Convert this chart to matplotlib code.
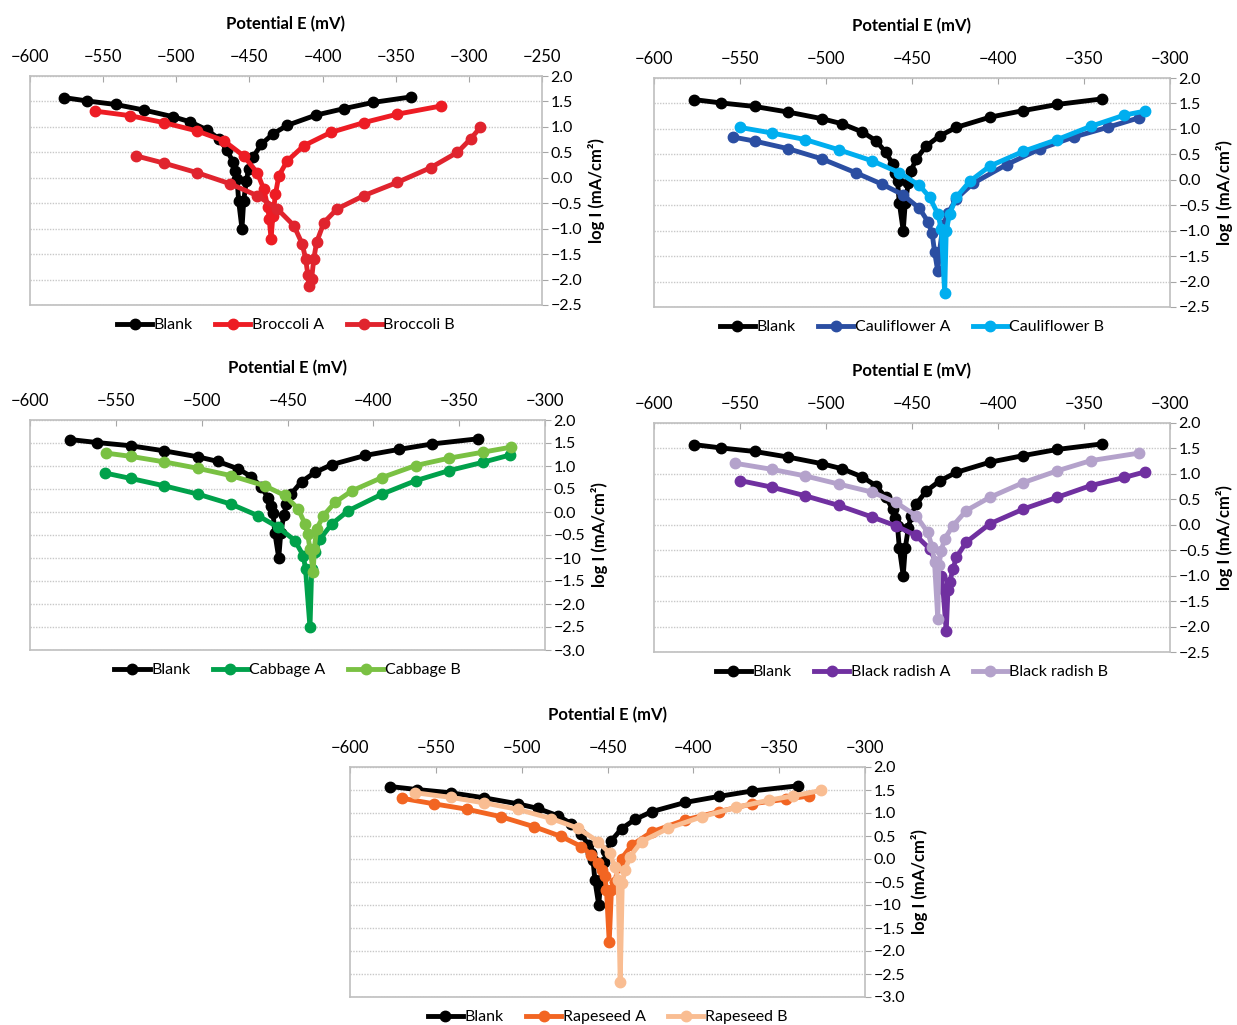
import numpy as np
import matplotlib.pyplot as plt
from matplotlib.ticker import FixedLocator, FixedFormatter

plt.rcParams['font.family'] = ['Lato', 'DejaVu Sans']

# Blank (same curve in all five panels)
blank_e = [-576.6, -561, -541.4, -521.9, -502.3, -490.6, -478.9, -471.1, -465.2, -461.3, -459.8,
           -458.4, -457.4, -455.1, -453.9, -452.1, -450.6, -447.7, -441.8, -434, -424.2, -404.7,
           -385.2, -365.6, -339.3]
blank_i = [1.575, 1.51, 1.44, 1.33, 1.20, 1.10, 0.94, 0.77, 0.54, 0.31, 0.14,
           -0.03, -0.45, -1.0, -0.45, -0.06, 0.17, 0.40, 0.66, 0.86, 1.03, 1.23,
           1.36, 1.48, 1.59]

# Broccoli
broc_a_e = [-555.5, -531.5, -508.7, -485.8, -467.6, -453.9, -444.7, -440.2, -437.4, -436.5, -435.2,
            -434, -432.2, -429.9, -424.2, -412.8, -394.5, -371.7, -348.9, -319.2]
broc_a_i = [1.31, 1.22, 1.085, 0.92, 0.73, 0.43, 0.10, -0.22, -0.58, -0.81, -1.2,
            -0.75, -0.32, 0.04, 0.33, 0.63, 0.89, 1.085, 1.25, 1.41]
broc_b_e = [-527.4, -508.7, -485.8, -463, -444.7, -431, -419.6, -413.9, -411.6, -410, -409.4,
            -407.5, -406, -404.1, -399.1, -390, -371.7, -348.9, -326, -307.8, -298.6, -292.2]
broc_b_i = [0.43, 0.29, 0.10, -0.12, -0.35, -0.61, -0.94, -1.30, -1.59, -1.92, -2.13,
            -1.99, -1.59, -1.27, -0.88, -0.61, -0.35, -0.09, 0.20, 0.50, 0.77, 0.99]

# Cauliflower
caul_a_e = [-554.1, -541.4, -521.9, -502.3, -482.8, -467.2, -455.5, -445.7, -440.8, -438.3, -436.9, -435,
            -434, -432, -429.1, -424.2, -414.5, -394.9, -375.4, -355.9, -336.3, -317.8]
caul_a_i = [0.84, 0.76, 0.61, 0.41, 0.14, -0.09, -0.29, -0.56, -0.82, -1.05, -1.41, -1.80,
            -1.41, -0.89, -0.66, -0.37, -0.07, 0.30, 0.61, 0.84, 1.03, 1.22]
caul_b_e = [-550.2, -531.6, -512.1, -492.6, -473, -457.4, -445.7, -439.8, -435, -433, -431,
            -430.1, -428.1, -424.2, -416.4, -404.7, -385.2, -365.6, -346.1, -326.6, -314.5]
caul_b_i = [1.03, 0.92, 0.79, 0.59, 0.37, 0.14, -0.11, -0.34, -0.67, -0.96, -2.22,
            -1.0, -0.67, -0.34, -0.03, 0.27, 0.56, 0.79, 1.05, 1.27, 1.35]

# Cabbage
cabb_a_e = [-556.6, -541.4, -521.9, -502.3, -482.8, -467.2, -455.5, -445.7, -440.8, -439.5, -436.9,
            -435.9, -434, -431.1, -424.2, -414.5, -394.9, -375.4, -355.9, -336.3, -320.3]
cabb_a_i = [0.85, 0.73, 0.57, 0.39, 0.17, -0.08, -0.33, -0.62, -0.95, -1.24, -2.51,
            -1.24, -0.88, -0.59, -0.26, 0.03, 0.39, 0.68, 0.90, 1.08, 1.24]
cabb_b_e = [-555.5, -541.4, -521.9, -502.3, -482.8, -463.3, -451.6, -443.8, -439.8, -438.3, -436.9, -435,
            -434.4, -433, -429.1, -422.3, -412.5, -394.9, -375.4, -355.9, -336.3, -319.7]
cabb_b_i = [1.28, 1.21, 1.09, 0.95, 0.79, 0.57, 0.36, 0.07, -0.26, -0.48, -0.80, -1.31,
            -0.80, -0.37, -0.08, 0.21, 0.46, 0.75, 1.01, 1.17, 1.30, 1.41]

# Black radish
brad_a_e = [-550.2, -531.6, -512.1, -492.6, -473, -459.4, -447.7, -439.8, -435.9, -433, -432, -430.1,
            -429.1, -428.1, -426.2, -424.2, -418.4, -404.7, -385.2, -365.6, -346.1, -326.6, -314.5]
brad_a_i = [0.87, 0.74, 0.57, 0.38, 0.15, -0.02, -0.21, -0.47, -0.74, -1.0, -1.26, -2.09,
            -1.29, -1.13, -0.87, -0.64, -0.34, 0.02, 0.31, 0.54, 0.77, 0.93, 1.04]
brad_b_e = [-553.1, -531.6, -512.1, -492.6, -473, -459.4, -447.7, -440.8, -438.3, -436.9, -435,
            -434.4, -433, -431.1, -426.2, -418.4, -404.7, -385.2, -365.6, -346.1, -317.8]
brad_b_i = [1.21, 1.09, 0.96, 0.80, 0.64, 0.44, 0.18, -0.15, -0.44, -0.74, -1.85,
            -0.80, -0.51, -0.28, -0.02, 0.28, 0.54, 0.83, 1.06, 1.26, 1.41]

# Rapeseed
rape_a_e = [-569.7, -551.2, -531.6, -512.1, -492.6, -477, -465.2, -459.4, -455.5, -453.1, -451.6, -450.6, -449,
            -447.7, -445.7, -443.8, -441.8, -435.9, -424.2, -404.7, -385.2, -365.6, -346.1, -332.4]
rape_a_i = [1.32, 1.20, 1.08, 0.92, 0.70, 0.49, 0.27, 0.09, -0.09, -0.24, -0.38, -0.67, -1.80,
            -0.67, -0.49, -0.17, 0.01, 0.30, 0.59, 0.85, 1.03, 1.20, 1.30, 1.37]
rape_b_e = [-561.9, -541.4, -521.9, -502.3, -482.8, -467.2, -455.5, -448.6, -445.7, -443.8, -442.6,
            -441.4, -439.8, -436.9, -430.1, -414.5, -394.9, -375.4, -355.9, -342.2, -325.6]
rape_b_i = [1.44, 1.34, 1.22, 1.08, 0.88, 0.67, 0.38, 0.12, -0.17, -0.46, -2.67,
            -0.53, -0.24, 0.05, 0.38, 0.67, 0.92, 1.12, 1.28, 1.37, 1.49]

y_ticks_a = [2.0, 1.5, 1.0, 0.5, 0.0, -0.5, -1.0, -1.5, -2.0, -2.5]
y_labels_a = ['2.0', '1.5', '1.0', '0.5', '0.0', '\u22120.5', '\u22121.0', '\u22121.5', '\u22122.0', '\u22122.5']
y_ticks_b = [2.0, 1.5, 1.0, 0.5, 0.0, -0.5, -1.0, -1.5, -2.0, -2.5, -3.0]
y_labels_b = ['2.0', '1.5', '1.0', '0.5', '0.0', '\u22120.5', '\u221210', '\u22121.5', '\u22122.0',
              '\u22122.5', '\u22123.0']

fig = plt.figure(figsize=(12.37, 10.25), dpi=100)

panels = [
    # rect, xlim, yticks, ylabels, series
    ([30/1237, 1-305/1025, 512/1237, 229/1025], (-600, -250), y_ticks_a, y_labels_a,
     [(broc_a_e, broc_a_i, '#ED1C24', 'Broccoli A'), (broc_b_e, broc_b_i, '#E0242E', 'Broccoli B')]),
    ([654/1237, 1-307/1025, 516/1237, 229/1025], (-600, -300), y_ticks_a, y_labels_a,
     [(caul_a_e, caul_a_i, '#2B4EA2', 'Cauliflower A'), (caul_b_e, caul_b_i, '#00AEEF', 'Cauliflower B')]),
    ([30/1237, 1-650/1025, 515/1237, 230/1025], (-600, -300), y_ticks_b, y_labels_b,
     [(cabb_a_e, cabb_a_i, '#00A14B', 'Cabbage A'), (cabb_b_e, cabb_b_i, '#7AC143', 'Cabbage B')]),
    ([654/1237, 1-652/1025, 516/1237, 229/1025], (-600, -300), y_ticks_a, y_labels_a,
     [(brad_a_e, brad_a_i, '#7030A0', 'Black radish A'), (brad_b_e, brad_b_i, '#B4A2CB', 'Black radish B')]),
    ([350/1237, 1-997/1025, 515/1237, 230/1025], (-600, -300), y_ticks_b, y_labels_b,
     [(rape_a_e, rape_a_i, '#F26522', 'Rapeseed A'), (rape_b_e, rape_b_i, '#F9BD92', 'Rapeseed B')]),
]

for rect, xlim, yt, yl, series in panels:
    ax = fig.add_axes(rect)
    ax.plot(blank_e, blank_i, color='black', lw=3.5, marker='o', ms=7.5, label='Blank')
    for e, i, c, name in series:
        ax.plot(e, i, color=c, lw=3.5, marker='o', ms=7.5, label=name)
    ax.set_xlim(*xlim)
    ax.set_ylim(yt[-1], yt[0])
    ax.set_xticks(np.arange(xlim[0], xlim[1] + 1, 50))
    ax.yaxis.set_major_locator(FixedLocator(yt))
    ax.yaxis.set_major_formatter(FixedFormatter(yl))
    ax.xaxis.tick_top()
    ax.xaxis.set_label_position('top')
    ax.yaxis.tick_right()
    ax.yaxis.set_label_position('right')
    ax.tick_params(axis='x', direction='in', length=4, color='#A6A6A6', labelsize=12, pad=8)
    ax.tick_params(axis='y', direction='out', length=4, color='#A6A6A6', labelsize=11.5, pad=2)
    for s in ax.spines.values():
        s.set_color('#BFBFBF')
        s.set_linewidth(1.2)
    ax.grid(axis='y', color='#C8C8C8', linestyle=(0, (1, 1)), linewidth=1)
    ax.set_axisbelow(True)
    ax.set_xlabel('Potential E (mV)', fontsize=12, fontweight='bold', labelpad=14)
    ax.set_ylabel('log I (mA/cm\u00b2)', fontsize=12, fontweight='bold', labelpad=4)
    ax.legend(loc='upper center', bbox_to_anchor=(0.5, -0.015), ncol=3, frameon=False,
              fontsize=11.5, handlelength=2.2, columnspacing=1.4, handletextpad=0.1, borderpad=0.1)

fig.savefig('out.png', dpi=100)
